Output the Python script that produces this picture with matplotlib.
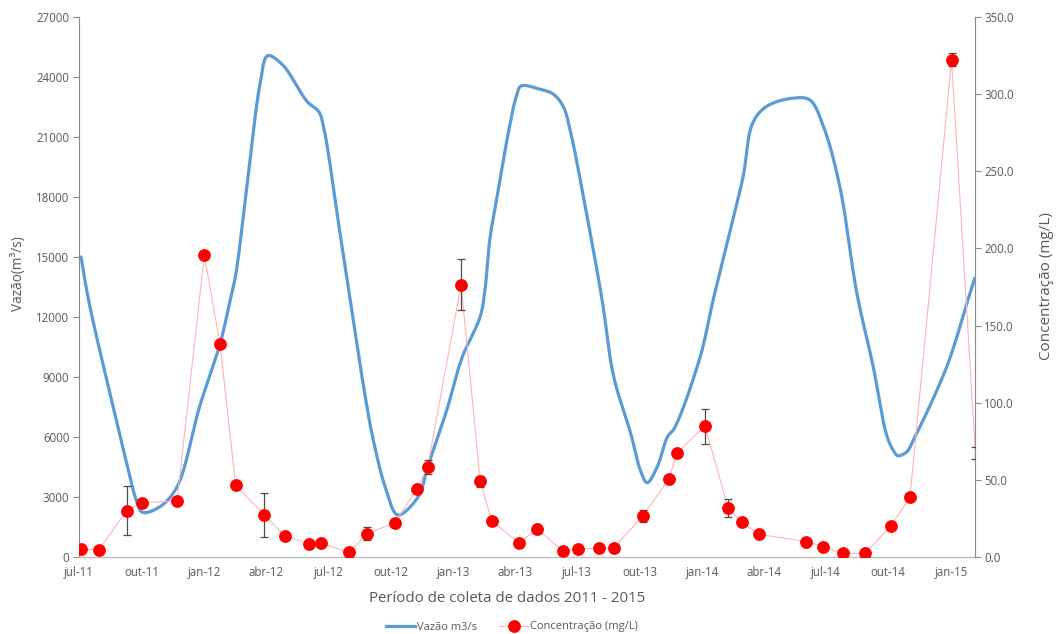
import numpy as np
import matplotlib
matplotlib.use("Agg")
import matplotlib.pyplot as plt
import matplotlib.dates as mdates
from matplotlib.lines import Line2D
from matplotlib.ticker import FixedLocator, FuncFormatter

plt.rcParams['font.family'] = ['Open Sans', 'DejaVu Sans']

# ---- Vazão (m3/s): smoothed hydrograph knots ----
vazao_datas = [
    "2011-07-04", "2011-07-15", "2011-07-31", "2011-08-20", "2011-09-09",
    "2011-09-23", "2011-10-02", "2011-10-28", "2011-11-22", "2011-12-25",
    "2012-01-24", "2012-02-08", "2012-02-16", "2012-03-03", "2012-03-23",
    "2012-04-03", "2012-04-25", "2012-05-31", "2012-06-17", "2012-06-24",
    "2012-07-19", "2012-08-21", "2012-09-05", "2012-09-24", "2012-10-11",
    "2012-11-10", "2012-11-24", "2012-12-22", "2013-01-13", "2013-02-09",
    "2013-02-16", "2013-02-23", "2013-03-05", "2013-03-24", "2013-04-03",
    "2013-04-10", "2013-05-07", "2013-05-27", "2013-06-11", "2013-06-21",
    "2013-07-16", "2013-08-07", "2013-08-24", "2013-09-18", "2013-10-02",
    "2013-10-12", "2013-10-27", "2013-11-11", "2013-11-21", "2013-12-29",
    "2014-01-17", "2014-02-10", "2014-03-02", "2014-03-16", "2014-04-05",
    "2014-05-14", "2014-06-08", "2014-06-28", "2014-07-22", "2014-08-16",
    "2014-09-09", "2014-09-28", "2014-10-08", "2014-10-15", "2014-10-28",
    "2014-11-07", "2014-12-26", "2015-01-26", "2015-02-05",
]
vazao = [
    15000, 12850, 10400, 7550, 4700,
    2860, 2250, 2530, 3527, 7520,
    10650, 12850, 14100, 18350, 23680,
    25050, 24590, 22760, 22260, 21510,
    16000, 8690, 5860, 3360, 2113,
    3027, 4525, 7360, 9940, 12020,
    13350, 15850, 17850, 21510, 23010,
    23540, 23380, 23140, 22510, 21340,
    17010, 12850, 9020, 6190, 4360,
    3726, 4525, 6025, 6440, 10020,
    12850, 16180, 19010, 21680, 22510,
    22930, 22840, 21510, 18510, 13190,
    9520, 6190, 5360, 5075, 5260,
    5860, 9520, 12850, 13935,
]

# ---- Concentração (mg/L) with error bars ----
conc_datas = [
    "2011-07-04", "2011-07-30", "2011-09-09", "2011-10-02", "2011-11-22",
    "2012-01-01", "2012-01-24", "2012-02-16", "2012-03-29", "2012-04-28",
    "2012-06-03", "2012-06-20", "2012-08-01", "2012-08-27", "2012-10-07",
    "2012-11-08", "2012-11-24", "2013-01-12", "2013-02-09", "2013-02-26",
    "2013-04-07", "2013-05-04", "2013-06-10", "2013-07-02", "2013-08-03",
    "2013-08-24", "2013-10-06", "2013-11-13", "2013-11-25", "2014-01-05",
    "2014-02-08", "2014-02-28", "2014-03-25", "2014-06-03", "2014-06-28",
    "2014-07-26", "2014-08-28", "2014-10-05", "2014-11-02", "2015-01-02",
    "2015-02-06",
]
concentracao = [
    5.2, 4.7, 30.2, 35.4, 36.5,
    195.6, 138.1, 46.6, 27.4, 14.0,
    8.6, 9.1, 3.2, 15.3, 22.4,
    44.0, 58.7, 176.6, 49.2, 23.5,
    9.5, 18.1, 4.3, 5.2, 6.0,
    6.0, 26.9, 50.7, 67.7, 84.8,
    31.9, 22.7, 14.9, 10.1, 6.9,
    2.6, 2.6, 20.3, 38.9, 322.1,
    67.5,
]
erro = [
    0, 0, 16.0, 0, 0,
    0, 0, 0, 14.2, 0,
    0, 0, 0, 4.3, 0,
    0, 4.5, 16.4, 3.6, 0,
    0, 0, 0, 0, 0,
    0, 4.0, 0, 0, 11.5,
    6.0, 0, 0, 0, 0,
    0, 0, 0, 0, 4.1,
    4.1,
]

meses_pt = {1: "jan", 4: "abr", 7: "jul", 10: "out"}


def to_num(datas):
    return mdates.date2num(np.array(datas, dtype="datetime64[D]"))


def catmull_rom(x, y, sx, sy, n=24, alpha=0.5):
    """Centripetal Catmull-Rom curve through the knots (computed in a
    roughly isotropic space given by the scale factors sx, sy)."""
    pts = np.column_stack([np.asarray(x) * sx, np.asarray(y) * sy])
    p = np.vstack([2 * pts[0] - pts[1], pts, 2 * pts[-1] - pts[-2]])
    out = []
    for i in range(1, len(p) - 2):
        P0, P1, P2, P3 = p[i - 1], p[i], p[i + 1], p[i + 2]
        t0 = 0.0
        t1 = t0 + max(np.linalg.norm(P1 - P0), 1e-9) ** alpha
        t2 = t1 + max(np.linalg.norm(P2 - P1), 1e-9) ** alpha
        t3 = t2 + max(np.linalg.norm(P3 - P2), 1e-9) ** alpha
        t = np.linspace(t1, t2, n, endpoint=(i == len(p) - 3))[:, None]
        A1 = (t1 - t) / (t1 - t0) * P0 + (t - t0) / (t1 - t0) * P1
        A2 = (t2 - t) / (t2 - t1) * P1 + (t - t1) / (t2 - t1) * P2
        A3 = (t3 - t) / (t3 - t2) * P2 + (t - t2) / (t3 - t2) * P3
        B1 = (t2 - t) / (t2 - t0) * A1 + (t - t0) / (t2 - t0) * A2
        B2 = (t3 - t) / (t3 - t1) * A2 + (t - t1) / (t3 - t1) * A3
        C = (t2 - t) / (t2 - t1) * B1 + (t - t1) / (t2 - t1) * B2
        out.append(C)
    c = np.vstack(out)
    return c[:, 0] / sx, c[:, 1] / sy


W, H = 1057, 634
fig = plt.figure(figsize=(W / 100, H / 100), dpi=100)
ax = fig.add_axes([79 / W, 1 - 557.3 / H, (974.7 - 79) / W, (557.3 - 16.7) / H])
ax2 = ax.twinx()

x0 = mdates.date2num(np.datetime64("2011-07-01"))
x1 = mdates.date2num(np.datetime64("2015-02-05"))

GRAY = "#595959"
AXCOL = "#8c8c8c"

# flow line (smoothed)
xv = to_num(vazao_datas)
sxp = (974.7 - 79) / (x1 - x0)
syp = (557.3 - 16.7) / 27000
cx, cy = catmull_rom(xv, vazao, sxp, syp)
ax.plot(cx, cy, color="#5B9BD5", lw=2.3, solid_capstyle="round", zorder=3)

# concentration series
xc = to_num(conc_datas)
conc = np.array(concentracao)
err = np.array(erro)
ax2.plot(xc, conc, color="#ffb3b3", lw=0.8, zorder=2)
has_err = err > 0
ax2.errorbar(xc[has_err], conc[has_err], yerr=err[has_err], fmt="none",
             ecolor="#4d4d4d", elinewidth=0.9, capsize=3, capthick=0.9, zorder=3)
inside = (xc >= x0) & (xc <= x1)
ax2.plot(xc[inside], conc[inside], ls="none", marker="o", ms=8.2,
         color="#ff0000", mec="#ff0000", zorder=4)

# axes limits and ticks
ax.set_xlim(x0, x1)
ax.set_ylim(0, 27000)
ax2.set_ylim(0, 350)
ax.set_yticks(np.arange(0, 27001, 3000))
ax2.set_yticks(np.arange(0, 351, 50))
ax2.yaxis.set_major_formatter(FuncFormatter(lambda v, p: f"{v:.1f}"))

ticks = []
for yr in range(2011, 2016):
    for m in (1, 4, 7, 10):
        d = mdates.date2num(np.datetime64(f"{yr}-{m:02d}-01"))
        if x0 <= d <= x1:
            ticks.append(d)
ax.xaxis.set_major_locator(FixedLocator(ticks))


def fmt_mes(v, pos):
    d = mdates.num2date(v)
    return f"{meses_pt[d.month]}-{d.year % 100:02d}"


ax.xaxis.set_major_formatter(FuncFormatter(fmt_mes))

for a in (ax, ax2):
    a.spines["top"].set_visible(False)
    a.spines["bottom"].set_color("#bfbfbf")
    a.spines["left"].set_color(AXCOL)
    a.spines["right"].set_color(AXCOL)
    a.spines["bottom"].set_linewidth(1.0)
ax.spines["right"].set_visible(False)
ax2.spines["left"].set_visible(False)
ax2.spines["bottom"].set_visible(False)

ax.tick_params(axis="y", direction="out", length=4, width=0.8, color=AXCOL,
               labelsize=8.3, labelcolor=GRAY, pad=3)
ax.tick_params(axis="x", length=0, labelsize=8.3, labelcolor=GRAY, pad=6)
ax2.tick_params(axis="y", direction="out", length=4, width=0.8, color=AXCOL,
                labelsize=8.3, labelcolor=GRAY, pad=3)

ax.set_zorder(1)
ax2.set_zorder(2)
ax2.patch.set_visible(False)

# titles
fig.text(19 / W, 1 - 274 / H, "Vazão(m³/s)", rotation=90, ha="center",
         va="center", fontsize=9.8, color=GRAY)
fig.text(1046 / W, 1 - 286 / H, "Concentração (mg/L)", rotation=90,
         ha="center", va="center", fontsize=11.0, color=GRAY)
fig.text(507 / W, 1 - 598 / H, "Período de coleta de dados 2011 - 2015",
         ha="center", va="center", fontsize=10.8, color=GRAY)

handles = [
    Line2D([], [], color="#5B9BD5", lw=2.3),
    Line2D([], [], color="#ffb3b3", lw=0.8, marker="o", ms=8.2,
           mfc="#ff0000", mec="#ff0000"),
]
fig.legend(handles, ["Vazão m3/s", "Concentração (mg/L)"], loc="center",
           bbox_to_anchor=(512 / W, 1 - 627 / H), ncol=2, frameon=False,
           fontsize=8, labelcolor=GRAY, handlelength=2.6, handletextpad=0.2,
           columnspacing=2.0)

fig.savefig("out.png", dpi=100, facecolor="white")
